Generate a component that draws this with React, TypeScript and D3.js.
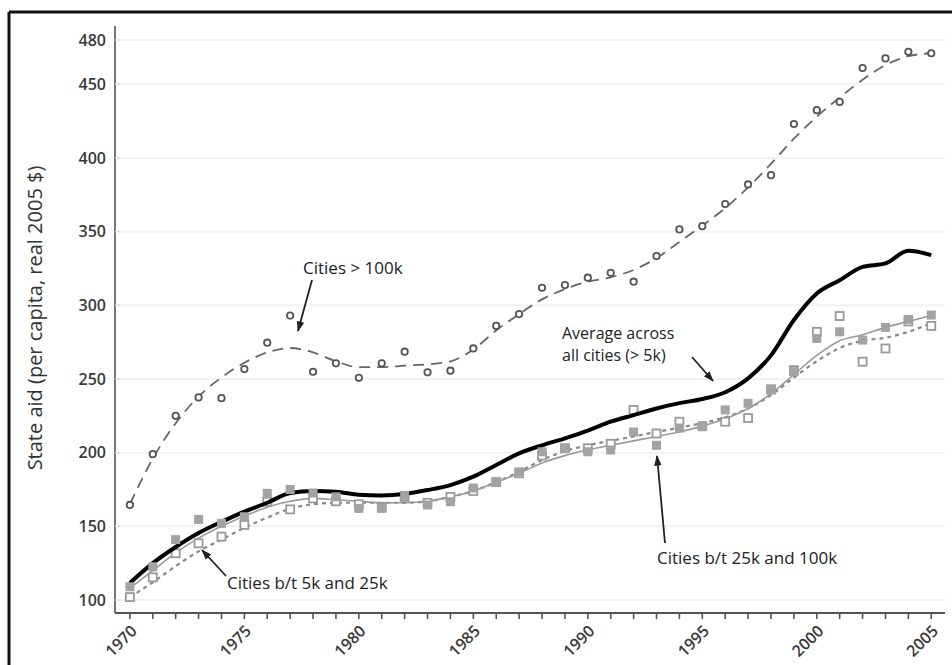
import * as d3 from "d3";

// years 1970..2005
const years = d3.range(1970, 2006);

// Cities > 100k: observed points and smoothed line
const bigPts = [164.5, 199, 225, 237.5, 237, 256.7, 274.6, 293, 254.9, 260.6, 250.8, 260.6, 268.5, 254.5, 255.6, 270.7, 286, 294, 311.9, 313.7, 318.7, 322, 316, 333.4, 351.5, 353.7, 368.7, 382, 388.3, 423, 432.4, 438, 461, 467.5, 472, 471];
const bigFit = [165, 196, 220, 238, 251, 261, 268, 271, 268, 262, 258, 258, 259, 260, 262, 270, 283, 294, 304, 311, 316, 319, 324, 332, 343, 354, 366, 380, 396, 413, 428, 441, 453, 463, 469, 471];

// Average across all cities (> 5k)
const avgLine = [111.5, 125, 136, 145.5, 153, 160, 166, 172.6, 174, 173.5, 171.5, 171, 172, 174.6, 178, 183.7, 191.6, 199.5, 205, 209.7, 215, 221, 225.5, 230, 233.6, 236.4, 241, 250.4, 266, 290, 308, 317, 326, 328.4, 337, 334];

// Cities b/t 25k and 100k (filled squares, thin solid line)
const midPts = [109, 122.6, 141, 154.7, 152, 156.5, 172.4, 175, 172.6, 170, 162.2, 162.2, 171, 164.5, 166.7, 176, 180.3, 187, 200.6, 203, 200.6, 201.8, 214, 205, 216.7, 217.6, 229, 233.5, 242.5, 255, 277.5, 282, 276.4, 285, 290.4, 293.4];
const midFit = [108, 120, 132, 142, 150, 157, 163, 167, 169, 168, 167, 166, 166, 167, 170, 174, 180, 186, 193, 198, 202, 205, 208, 211, 214, 218, 223, 230, 240, 253, 266, 276, 280, 285, 289, 293];

// Cities b/t 5k and 25k (open squares, dotted line)
const smallPts = [102, 115.4, 131.7, 138.5, 143, 151, 166.7, 161.5, 169, 167, 165, 163, 170, 166, 170, 174, 180, 186, 198, 203, 203, 206, 229, 213, 221, 218, 221, 223.5, 243, 256, 282, 292.7, 261.7, 270.7, 289, 286];
const smallFit = [102, 112, 123, 133, 141, 149, 156, 162, 165, 166, 166, 166, 166, 167, 170, 174, 180, 187, 195, 201, 205, 208, 211, 214, 217, 220, 224, 230, 239, 251, 262, 271, 276, 278, 282, 288];

const yTicks = [100, 150, 200, 250, 300, 350, 400, 450, 480];
const xLabels = [1970, 1975, 1980, 1985, 1990, 1995, 2000, 2005];

const W = 952;
const H = 665;
const FONT = "'Open Sans', 'Noto Sans', sans-serif";

export default function App() {
  const x = d3.scaleLinear().domain([1969.35, 2005.6]).range([115, 945]);
  const y = d3.scaleLinear().domain([91.2, 489.5]).range([613, 26]);

  const line = (vals: number[]) =>
    d3
      .line<number>()
      .x((_, i) => x(years[i]))
      .y((d) => y(d))
      .curve(d3.curveMonotoneX)(vals) || "";

  const arrow = (x1: number, y1: number, x2: number, y2: number) => (
    <line x1={x1} y1={y1} x2={x2} y2={y2} stroke="#222" strokeWidth={1.8} markerEnd="url(#ah)" />
  );

  return (
    <svg width={W} height={H} style={{ position: "absolute", left: 0, top: 0, background: "#fff" }}>
      <defs>
        <marker id="ah" viewBox="0 0 10 10" refX="9" refY="5" markerWidth="6" markerHeight="6" orient="auto">
          <path d="M0,1.5 L10,5 L0,8.5 Z" fill="#222" />
        </marker>
      </defs>
      <rect width={W} height={H} fill="#fff" />
      {/* frame */}
      <line x1={9} y1={12} x2={W} y2={12} stroke="#111" strokeWidth={3} />
      <line x1={9} y1={12} x2={9} y2={H} stroke="#111" strokeWidth={3} />

      {/* faint gridlines */}
      {yTicks.map((t) => (
        <line key={t} x1={x.range()[0]} x2={x.range()[1]} y1={y(t)} y2={y(t)} stroke="#f2f2f2" strokeWidth={2} />
      ))}

      {/* axes */}
      <line x1={115} y1={y.range()[1]} x2={115} y2={y.range()[0]} stroke="#777" strokeWidth={2} />
      <line x1={115} y1={y.range()[0]} x2={945} y2={y.range()[0]} stroke="#555" strokeWidth={2} />
      {yTicks.map((t) => (
        <g key={t}>
          <line x1={115} x2={120} y1={y(t)} y2={y(t)} stroke="#ddd" strokeWidth={1.5} />
          <text x={106} y={y(t)} dy="0.35em" textAnchor="end" fontFamily={FONT} fontSize={16} fontWeight={600} fill="#3a3a3a">
            {t}
          </text>
        </g>
      ))}
      {years.map((yr) => (
        <line key={yr} x1={x(yr)} x2={x(yr)} y1={613} y2={619} stroke="#555" strokeWidth={1.6} />
      ))}
      {xLabels.map((yr) => (
        <text
          key={yr}
          transform={`translate(${x(yr) + 4},${628}) rotate(-45)`}
          textAnchor="end"
          dy="0.35em"
          fontFamily={FONT}
          fontSize={16}
          fontWeight={600}
          fill="#3a3a3a"
        >
          {yr}
        </text>
      ))}
      <text
        transform={`translate(35,${318}) rotate(-90)`}
        textAnchor="middle"
        dy="0.35em"
        fontFamily={FONT}
        fontSize={20}
        fill="#333"
      >
        State aid (per capita, real 2005 $)
      </text>

      {/* Cities > 100k */}
      <path d={line(bigFit)} fill="none" stroke="#666" strokeWidth={1.8} strokeDasharray="11,7" />
      {bigPts.map((v, i) => (
        <circle key={i} cx={x(years[i])} cy={y(v)} r={3.2} fill="#fff" stroke="#555" strokeWidth={1.8} />
      ))}

      {/* Cities b/t 5k and 25k */}
      <path d={line(smallFit)} fill="none" stroke="#888" strokeWidth={2.2} strokeDasharray="4,4" />
      {/* Cities b/t 25k and 100k */}
      <path d={line(midFit)} fill="none" stroke="#999" strokeWidth={1.6} />
      {smallPts.map((v, i) => (
        <rect key={i} x={x(years[i]) - 4} y={y(v) - 4} width={8} height={8} fill="#fff" stroke="#999" strokeWidth={1.8} />
      ))}
      {/* average */}
      <path d={line(avgLine)} fill="none" stroke="#000" strokeWidth={4} />
      {midPts.map((v, i) => (
        <rect key={i} x={x(years[i]) - 4.5} y={y(v) - 4.5} width={9} height={9} fill="#a3a3a3" />
      ))}

      {/* annotations */}
      <text x={303} y={268} dy="0.35em" fontFamily={FONT} fontSize={17} fill="#222">
        Cities &gt; 100k
      </text>
      {arrow(312, 280, 298, 331)}
      <text x={562} y={333} dy="0.35em" fontFamily={FONT} fontSize={16} fill="#222">
        Average across
      </text>
      <text x={562} y={355} dy="0.35em" fontFamily={FONT} fontSize={16} fill="#222">
        all cities (&gt; 5k)
      </text>
      {arrow(692, 357, 713, 381)}
      <text x={227} y={583} dy="0.35em" fontFamily={FONT} fontSize={17} fill="#222">
        Cities b/t 5k and 25k
      </text>
      {arrow(226, 576, 202, 550)}
      <text x={657} y={558} dy="0.35em" fontFamily={FONT} fontSize={17} fill="#222">
        Cities b/t 25k and 100k
      </text>
      {arrow(665, 543, 657, 456)}
    </svg>
  );
}
